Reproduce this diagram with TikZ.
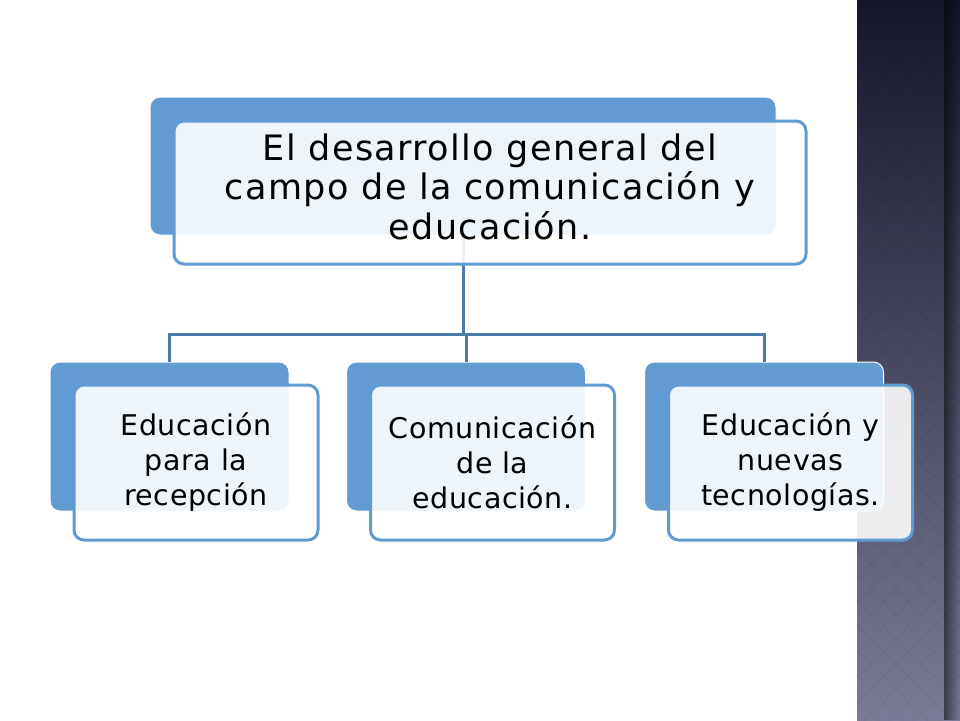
\documentclass[tikz,border=0pt]{standalone}
\usepackage{fontspec}
\setmainfont{DejaVu Sans}
\newfontfamily\mainfont[LetterSpace=4]{DejaVu Sans}
\newfontfamily\boxfont[LetterSpace=2]{DejaVu Sans}
\usepackage{tikz}
\usetikzlibrary{fadings}
\definecolor{map-blue}{RGB}{98,155,210}
\definecolor{map-line}{RGB}{76,122,170}
\definecolor{strip-top}{RGB}{20,22,42}
\definecolor{strip-mid}{RGB}{58,60,84}
\definecolor{strip-bot}{RGB}{122,123,150}

\begin{document}
\begin{tikzpicture}[x=1pt, y=-1pt,
		back/.style={draw=white, line width=1pt, fill=map-blue, rounded corners=10pt},
		front/.style={draw=map-blue, line width=3pt, fill=white, fill opacity=0.89, text opacity=1, rounded corners=10pt, align=center, inner sep=0pt},
		link/.style={draw=map-line, line width=3pt}]
		% Background and side strip
		\useasboundingbox (0,0) rectangle (960,720);
		\fill[white] (0,0) rectangle (960,720);
		\shade[top color=strip-top, middle color=strip-mid, bottom color=strip-bot] (857,0) rectangle (960,720);
		\begin{scope}
			\clip (857,0) rectangle (960,720);
			\foreach \d in {0,25,...,850} {
				\draw[black, opacity=0.03, line width=1.5pt] (857,\d) -- ++(120,120);
				\draw[black, opacity=0.03, line width=1.5pt] (960,\d) -- ++(-120,120);
			}
		\end{scope}
		\fill[black, path fading=east, opacity=0.5] (944,0) rectangle (960,720);
		
		% Draw the back boxes
		\node (mainback) [back, minimum width=626pt, minimum height=138pt] at (463,166) {};
		\node (recepback) [back, minimum width=239pt, minimum height=149pt] at (169.5,436.5) {};
		\node (comunback) [back, minimum width=239pt, minimum height=149pt] at (466,436.5) {};
		\node (tecnoback) [back, minimum width=239pt, minimum height=149pt] at (764,436.5) {};
		
		% Connect the boxes
		\draw[link] (mainback.south) -- ++(0,99) coordinate (bus);
		\draw[link] (recepback.north) |- (bus) -| (tecnoback.north);
		\draw[link] (comunback.north) -- (comunback.north |- bus);
		
		% Draw the front boxes
		\node (main) [front, minimum width=632pt, minimum height=143pt, xshift=27pt, yshift=-26.5pt, font=\mainfont\fontsize{35}{39.5}\selectfont] at (mainback) {El desarrollo general del\\campo de la comunicación y\\educación.\\[-27.5pt]};
		\node (recep) [front, minimum width=244pt, minimum height=155pt, xshift=26.5pt, yshift=-26pt, font=\boxfont\fontsize{28.5}{35}\selectfont] at (recepback) {Educación\\para la\\recepción};
		\node (comun) [front, minimum width=244pt, minimum height=155pt, xshift=26.5pt, yshift=-26pt, font=\boxfont\fontsize{28.5}{35}\selectfont] at (comunback) {Comunicación\\de la\\educación.};
		\node (tecno) [front, minimum width=244pt, minimum height=155pt, xshift=26.5pt, yshift=-26pt, font=\boxfont\fontsize{28.5}{35}\selectfont] at (tecnoback) {Educación y\\nuevas\\tecnologías.};
\end{tikzpicture}
\end{document}
